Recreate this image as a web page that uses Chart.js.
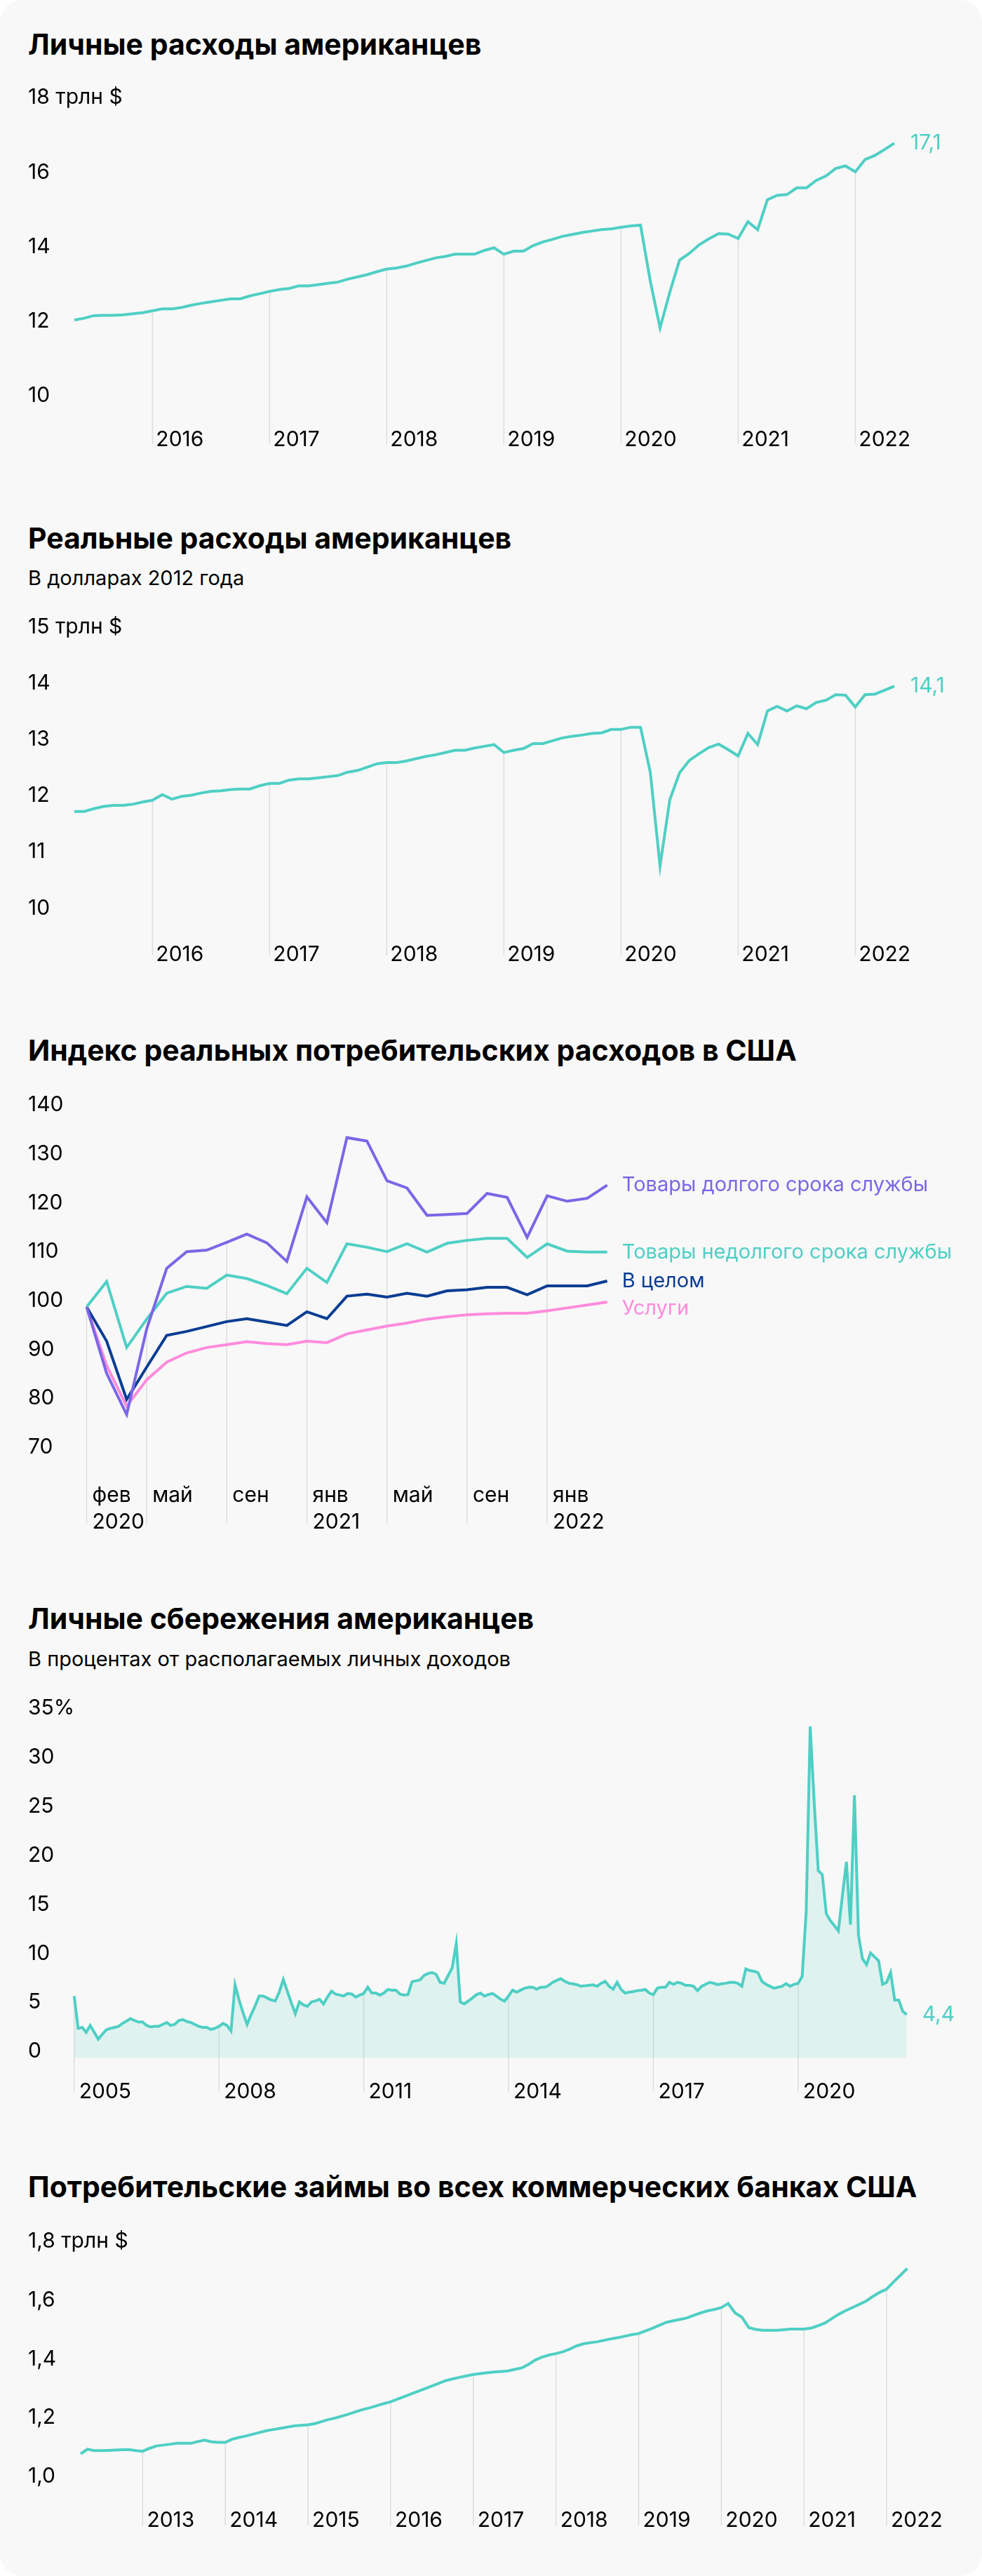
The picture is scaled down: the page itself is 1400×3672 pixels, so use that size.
<!DOCTYPE html>
<html lang="ru">
<head>
<meta charset="utf-8">
<title>Расходы, сбережения и займы американцев</title>
<script src="https://cdn.jsdelivr.net/npm/chart.js@4.4.1/dist/chart.umd.min.js"></script>
<style>
  body { margin: 0; background: #fff; font-family: Inter, 'Noto Sans', sans-serif; }
  .card { position: relative; width: 1400px; height: 3672px; background: #f8f8f8; border-radius: 32px; overflow: hidden; }
  .title { position: absolute; left: 40px; font-weight: 700; font-size: 41px; line-height: 41px; color: #000; white-space: nowrap; }
  .sub { position: absolute; left: 40px; font-size: 29px; line-height: 29px; color: #000; white-space: nowrap; }
  .box { position: absolute; left: 0; width: 1400px; }
  canvas { display: block; }
</style>
</head>
<body>
<div class="card">
  <div class="title" style="top:43px">Личные расходы американцев</div>
  <div class="box" style="top:100px"><canvas id="spend" width="1400" height="560"></canvas></div>

  <div class="title" style="top:747px">Реальные расходы американцев</div>
  <div class="sub" style="top:809px">В долларах 2012 года</div>
  <div class="box" style="top:850px"><canvas id="real" width="1400" height="540"></canvas></div>

  <div class="title" style="top:1477px">Индекс реальных потребительских расходов в США</div>
  <div class="box" style="top:1530px"><canvas id="index" width="1400" height="670"></canvas></div>

  <div class="title" style="top:2287px">Личные сбережения американцев</div>
  <div class="sub" style="top:2350px">В процентах от располагаемых личных доходов</div>
  <div class="box" style="top:2390px"><canvas id="saving" width="1400" height="610"></canvas></div>

  <div class="title" style="top:3097px">Потребительские займы во всех коммерческих банках США</div>
  <div class="box" style="top:3150px"><canvas id="loans" width="1400" height="470"></canvas></div>
</div>

<script>
// ---- data ----

// personal spending, trillion $, monthly from Apr 2015
const spendNominal = [
  12.35, 12.4, 12.47, 12.48, 12.48, 12.49, 12.52, 12.55, 12.6, 12.65,
  12.65, 12.69, 12.75, 12.8, 12.84, 12.88, 12.92, 12.92, 13.0, 13.06,
  13.12, 13.17, 13.2, 13.27, 13.27, 13.3, 13.34, 13.37, 13.45, 13.51,
  13.57, 13.65, 13.72, 13.75, 13.8, 13.88, 13.95, 14.02, 14.06, 14.12,
  14.12, 14.12, 14.22, 14.29, 14.12, 14.2, 14.2, 14.35, 14.45, 14.52,
  14.6, 14.65, 14.7, 14.74, 14.78, 14.8, 14.84, 14.88, 14.9, 13.4,
  12.14, 13.1, 13.96, 14.14, 14.37, 14.53, 14.67, 14.66, 14.54, 14.99,
  14.78, 15.58, 15.7, 15.72, 15.9, 15.9, 16.1, 16.22, 16.42, 16.49,
  16.33, 16.66, 16.77, 16.93, 17.1
];

// real spending, trillion 2012 $, same months
const spendReal = [
  11.87, 11.87, 11.92, 11.96, 11.98, 11.98, 12.0, 12.04, 12.07, 12.17,
  12.09, 12.14, 12.16, 12.2, 12.23, 12.24, 12.26, 12.27, 12.27, 12.33,
  12.37, 12.37, 12.43, 12.45, 12.45, 12.47, 12.49, 12.51, 12.57, 12.6,
  12.66, 12.72, 12.74, 12.74, 12.77, 12.81, 12.85, 12.88, 12.92, 12.96,
  12.96, 13.0, 13.03, 13.06, 12.92, 12.96, 12.99, 13.08, 13.08, 13.13,
  13.18, 13.21, 13.23, 13.26, 13.27, 13.33, 13.33, 13.37, 13.37, 12.57,
  10.9, 12.08, 12.56, 12.78, 12.9, 13.01, 13.07, 12.97, 12.86, 13.26,
  13.06, 13.66, 13.74, 13.66, 13.75, 13.7, 13.81, 13.85, 13.95, 13.94,
  13.73, 13.95, 13.96, 14.03, 14.1
];
const spendYears = [2016, 2017, 2018, 2019, 2020, 2021, 2022];

// real spending index, Feb 2020 = 100, monthly to Apr 2022
const indexDurable = [100, 86.4, 78, 95.5, 107.9, 111.3, 111.6, 113.2, 114.9, 113.1, 109.3, 122.5, 117.2, 134.6,
  133.9, 125.8, 124.3, 118.7, 118.9, 119.1, 123.2, 122.4, 114.2, 122.7, 121.6, 122.2, 124.9];
const indexNondurable = [100, 105.2, 91.7, 97.5, 102.8, 104.2, 103.8, 106.5, 105.8, 104.4, 102.7, 107.9, 105.0, 112.9,
  112.2, 111.3, 112.9, 111.2, 113.0, 113.6, 114.0, 114.0, 110.1, 112.9, 111.4, 111.2, 111.2];
const indexTotal = [100, 93, 81.1, 87.7, 94.2, 95.0, 96.0, 97.0, 97.6, 96.9, 96.2, 99.0, 97.6, 102.2,
  102.6, 102.0, 102.8, 102.2, 103.3, 103.5, 104.0, 104.0, 102.5, 104.3, 104.3, 104.3, 105.3];
const indexServices = [100, 88, 79.7, 85.1, 88.7, 90.6, 91.7, 92.3, 92.9, 92.5, 92.3, 93.0, 92.7, 94.5,
  95.3, 96.1, 96.7, 97.5, 98.0, 98.4, 98.6, 98.7, 98.7, 99.2, 99.8, 100.4, 101.0];
const indexNames = ['Товары долгого срока службы', 'Товары недолгого срока службы', 'В целом', 'Услуги'];
const indexTickMonths = ['2020-02', '2020-05', '2020-09', '2021-01', '2021-05', '2021-09', '2022-01'];
const indexTickLabels = [['фев', '2020'], 'май', 'сен', ['янв', '2021'], 'май', 'сен', ['янв', '2022']];

// personal saving rate, %, monthly from Jan 2005
const savingRate = [
  6.3, 3.0, 3.1, 2.6, 3.3, 2.6, 1.9, 2.4, 2.86, 3.0, 3.1, 3.2,
  3.5, 3.75, 4.0, 3.8, 3.65, 3.65, 3.3, 3.15, 3.2, 3.2, 3.4, 3.6,
  3.3, 3.4, 3.8, 3.9, 3.7, 3.6, 3.4, 3.2, 3.1, 3.1, 2.9, 3.0,
  3.2, 3.5, 3.3, 2.74, 7.45, 5.9, 4.6, 3.4, 4.4, 5.3, 6.3, 6.3,
  6.1, 5.9, 5.8, 6.7, 8.0, 6.8, 5.6, 4.5, 5.7, 5.4, 5.25, 5.7,
  5.8, 5.97, 5.5, 6.2, 6.8, 6.5, 6.4, 6.3, 6.56, 6.5, 6.2, 6.4,
  6.56, 7.2, 6.6, 6.6, 6.4, 6.6, 6.97, 6.9, 6.9, 6.5, 6.4, 6.45,
  7.76, 7.85, 7.95, 8.4, 8.6, 8.7, 8.5, 7.7, 7.6, 8.4, 9.2, 11.65,
  5.7, 5.5, 5.8, 6.1, 6.44, 6.6, 6.3, 6.45, 6.56, 6.3, 5.97, 5.78,
  6.3, 6.9, 6.7, 6.9, 7.1, 7.2, 7.2, 7.0, 7.2, 7.2, 7.4, 7.7,
  7.9, 8.07, 7.8, 7.6, 7.55, 7.45, 7.3, 7.35, 7.4, 7.45, 7.3, 7.6,
  7.8, 7.3, 7.0, 7.7, 6.97, 6.6, 6.7, 6.75, 6.85, 6.9, 6.97, 6.6,
  6.44, 7.1, 7.2, 7.2, 7.7, 7.5, 7.7, 7.6, 7.4, 7.4, 7.3, 6.85,
  7.3, 7.5, 7.7, 7.6, 7.47, 7.55, 7.6, 7.7, 7.7, 7.6, 7.3, 9.07,
  8.9, 8.83, 8.7, 7.8, 7.5, 7.3, 7.1, 7.2, 7.3, 7.57, 7.3, 7.5,
  7.6, 8.3, 14.9, 33.8, 26.0, 19.1, 18.7, 14.7, 14.0, 13.5, 12.95, 16.5,
  20.0, 13.6, 26.8, 12.5, 10.1, 9.5, 10.7, 10.3, 9.9, 7.5, 7.7, 8.7,
  5.9, 5.9, 4.75, 4.4
];
const savingYears = [2005, 2008, 2011, 2014, 2017, 2020];

// consumer loans, all commercial banks, trillion $, monthly from Apr 2012
const consumerLoans = [
  1.101, 1.117, 1.112, 1.112, 1.113, 1.114, 1.115, 1.116, 1.112,
  1.11, 1.12, 1.128, 1.131, 1.134, 1.137, 1.137, 1.137, 1.143, 1.148, 1.142, 1.14,
  1.14, 1.151, 1.157, 1.162, 1.168, 1.174, 1.18, 1.184, 1.188, 1.192, 1.196, 1.198,
  1.2, 1.204, 1.211, 1.218, 1.223, 1.23, 1.237, 1.245, 1.252, 1.258, 1.265, 1.272,
  1.278, 1.287, 1.296, 1.305, 1.314, 1.323, 1.332, 1.341, 1.35, 1.356, 1.361, 1.366,
  1.371, 1.374, 1.377, 1.379, 1.381, 1.383, 1.388, 1.393, 1.405, 1.42, 1.43, 1.437,
  1.442, 1.448, 1.457, 1.468, 1.475, 1.479, 1.482, 1.487, 1.492, 1.496, 1.501, 1.506,
  1.51, 1.519, 1.528, 1.538, 1.548, 1.553, 1.558, 1.563, 1.572, 1.58, 1.587, 1.592,
  1.598, 1.612, 1.58, 1.565, 1.53, 1.524, 1.521, 1.521, 1.521, 1.523, 1.525, 1.525,
  1.525, 1.528, 1.536, 1.545, 1.56, 1.575, 1.587, 1.598, 1.609, 1.62, 1.636, 1.65,
  1.661, 1.685, 1.708, 1.731
];
const loanYears = [2013, 2014, 2015, 2016, 2017, 2018, 2019, 2020, 2021, 2022];

const TEAL = '#4fcfc4';
const PURPLE = '#7a67e6';
const NAVY = '#0a3d93';
const PINK = '#ff8bdc';

// ---- helpers ----

function months(year, month, count) {
  const out = [];
  for (let i = 0; i < count; i++) {
    out.push(year + '-' + String(month).padStart(2, '0'));
    month++;
    if (month > 12) { month = 1; year++; }
  }
  return out;
}

function comma(v) {
  return v.toFixed(1).replace('.', ',');
}

// vertical lines from the highest line down to below the axis
const dropLines = {
  id: 'dropLines',
  beforeDatasetsDraw(chart, args, opts) {
    if (!opts.indices) return;
    const ctx = chart.ctx;
    ctx.save();
    ctx.strokeStyle = '#dddddd';
    ctx.lineWidth = 1.5;
    opts.indices.forEach(i => {
      let x = 0, top = Infinity;
      chart.data.datasets.forEach((d, k) => {
        const p = chart.getDatasetMeta(k).data[i];
        x = p.x;
        top = Math.min(top, p.y);
      });
      ctx.beginPath();
      ctx.moveTo(x, top);
      ctx.lineTo(x, opts.bottom);
      ctx.stroke();
    });
    ctx.restore();
  }
};

// text right after the last point of each line
const endLabels = {
  id: 'endLabels',
  afterDatasetsDraw(chart, args, opts) {
    if (!opts.texts) return;
    const ctx = chart.ctx;
    const items = opts.texts.map((t, k) => {
      const pts = chart.getDatasetMeta(k).data;
      const p = pts[pts.length - 1];
      return { text: t, x: p.x + opts.gap, y: p.y, color: chart.data.datasets[k].borderColor };
    }).sort((a, b) => a.y - b.y);
    // keep labels from overlapping
    for (let i = 1; i < items.length; i++) {
      if (items[i].y - items[i - 1].y < opts.minGap) items[i].y = items[i - 1].y + opts.minGap;
    }
    ctx.save();
    ctx.font = opts.size + 'px Inter, "Noto Sans", sans-serif';
    ctx.textBaseline = 'middle';
    ctx.textAlign = 'left';
    items.forEach(it => {
      ctx.fillStyle = it.color;
      ctx.fillText(it.text, it.x, it.y);
    });
    ctx.restore();
  }
};

Chart.defaults.font.family = 'Inter, "Noto Sans", sans-serif';
Chart.defaults.color = '#000';

function buildChart(id, o) {
  const canvas = document.getElementById(id);
  const H = canvas.height;
  const tickIdx = o.xTicks.map(t => o.labels.indexOf(t.at));
  return new Chart(canvas, {
    type: 'line',
    data: {
      labels: o.labels,
      datasets: o.series.map(s => ({
        data: s.data,
        borderColor: s.color,
        backgroundColor: s.fill || 'transparent',
        fill: s.fill ? 'origin' : false,
        borderWidth: 4,
        pointRadius: 0,
        tension: 0
      }))
    },
    options: {
      responsive: false,
      animation: false,
      devicePixelRatio: 1,
      layout: {
        padding: { left: 40, right: 1400 - o.right, top: o.top, bottom: H - o.bottom - o.xHeight }
      },
      plugins: {
        legend: { display: false },
        tooltip: { enabled: false },
        dropLines: { indices: tickIdx, bottom: o.dropBottom },
        endLabels: { texts: o.endTexts, gap: o.gap, minGap: 39, size: o.endSize || 30 }
      },
      scales: {
        x: {
          grid: { display: false },
          border: { display: false },
          afterBuildTicks: s => { s.ticks = tickIdx.map(v => ({ value: v })); },
          afterFit: s => { s.height = o.xHeight; },
          ticks: {
            autoSkip: false,
            maxRotation: 0,
            align: 'start',
            labelOffset: o.xShift,
            padding: o.xPad,
            font: { size: 30, lineHeight: o.xLine },
            callback: (v, i) => o.xTicks[i].label
          }
        },
        y: {
          min: o.yMin,
          max: o.yMax,
          grid: { display: false },
          border: { display: false },
          afterBuildTicks: s => { s.ticks = o.yTicks.map(v => ({ value: v })); },
          afterFit: s => { s.width = o.left - 40; },
          ticks: {
            // mirrored labels are not clipped to the axis box, so the long top label fits
            mirror: true,
            crossAlign: 'near',
            padding: 40 - o.left,
            labelOffset: -o.yShift,
            font: { size: 30 },
            callback: o.yFormat
          }
        }
      }
    },
    plugins: [dropLines, endLabels]
  });
}

// ---- charts ----

const spendMonths = months(2015, 4, spendNominal.length);
const yearEnds = spendYears.map(y => ({ at: (y - 1) + '-12', label: String(y) }));

buildChart('spend', {
  labels: spendMonths,
  series: [{ data: spendNominal, color: TEAL }],
  endTexts: [comma(spendNominal[spendNominal.length - 1])], gap: 23,
  left: 106, right: 1275, top: 56.3, bottom: 502.3,
  yMin: 9.6, yMax: 18, yTicks: [10, 12, 14, 16, 18], yShift: 17,
  yFormat: v => v === 18 ? '18 трлн $' : String(v),
  xTicks: yearEnds, xHeight: 40, xPad: -1, xLine: 1.2, xShift: 5, dropBottom: 533
});

buildChart('real', {
  labels: spendMonths,
  series: [{ data: spendReal, color: TEAL }],
  endTexts: [comma(spendReal[spendReal.length - 1])], gap: 23,
  left: 106, right: 1275, top: 56.1, bottom: 480.6,
  yMin: 9.7, yMax: 15, yTicks: [10, 11, 12, 13, 14, 15], yShift: 12,
  yFormat: v => v === 15 ? '15 трлн $' : String(v),
  xTicks: yearEnds, xHeight: 40, xPad: 4, xLine: 1.2, xShift: 5, dropBottom: 512
});

const indexMonths = months(2020, 2, indexTotal.length);
buildChart('index', {
  labels: indexMonths,
  series: [
    { data: indexDurable, color: PURPLE },
    { data: indexNondurable, color: TEAL },
    { data: indexTotal, color: NAVY },
    { data: indexServices, color: PINK }
  ],
  endTexts: indexNames, gap: 21, endSize: 29,
  left: 123.5, right: 865.7, top: 54, bottom: 570.1,
  yMin: 66, yMax: 140, yTicks: [70, 80, 90, 100, 110, 120, 130, 140], yShift: 9,
  yFormat: v => String(v),
  xTicks: indexTickMonths.map((m, i) => ({ at: m, label: indexTickLabels[i] })),
  xHeight: 90, xPad: 5, xLine: 1.2667, xShift: 8, dropBottom: 642
});

buildChart('saving', {
  labels: months(2005, 1, savingRate.length),
  series: [{ data: savingRate, color: TEAL, fill: 'rgba(78, 205, 196, 0.15)' }],
  endTexts: [comma(savingRate[savingRate.length - 1])], gap: 22,
  left: 105.7, right: 1292.7, top: 54.4, bottom: 543.3,
  yMin: 0, yMax: 35, yTicks: [0, 5, 10, 15, 20, 25, 30, 35], yShift: 9,
  yFormat: v => v === 35 ? '35%' : String(v),
  xTicks: savingYears.map(y => ({ at: y + '-01', label: String(y) })),
  xHeight: 60, xPad: 23, xLine: 1.2, xShift: 7, dropBottom: 592
});

buildChart('loans', {
  labels: months(2012, 4, consumerLoans.length),
  series: [{ data: consumerLoans, color: TEAL }],
  endTexts: null, gap: 0,
  left: 115, right: 1293.5, top: 54.7, bottom: 419.7,
  yMin: 0.93, yMax: 1.8, yTicks: [1.0, 1.2, 1.4, 1.6, 1.8], yShift: 10,
  yFormat: v => Math.abs(v - 1.8) < 1e-6 ? '1,8 трлн $' : comma(v),
  xTicks: loanYears.map(y => ({ at: y + '-01', label: String(y) })),
  xHeight: 40, xPad: -3, xLine: 1.2, xShift: 6, dropBottom: 450
});
</script>
</body>
</html>
